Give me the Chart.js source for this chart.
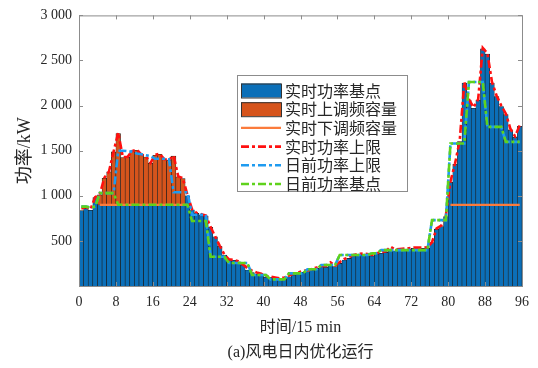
<!DOCTYPE html>
<html>
<head>
<meta charset="utf-8">
<script src="https://cdn.jsdelivr.net/npm/chart.js"></script>
<style>
  body { margin: 0; background: #fff; }
</style>
</head>
<body>
<canvas id="chart" width="538" height="368"></canvas>
<script>
// --- DATA (96 intervals of 15 min) ---

// 实时功率基点 (blue bars)
const rtBase = [
  835, 860, 840, 980, 900, 900, 900, 900, 900, 900, 900, 900, 900, 900, 900, 900,
  900, 900, 900, 900, 900, 900, 900, 1000, 845, 805, 790, 775, 650, 546, 440, 343,
  288, 285, 269, 232, 177, 148, 133, 122, 96, 96, 85, 74, 85, 103, 122, 140,
  151, 159, 177, 196, 214, 207, 232, 214, 251, 288, 306, 332, 343, 351, 343, 332,
  351, 362, 373, 398, 390, 398, 405, 408, 417, 417, 417, 420, 480, 630, 660, 770,
  1150, 1350, 1600, 2250, 2060, 1970, 2060, 2630, 2570, 2250, 2100, 1990, 1900, 1730, 1650, 1770
];

// 实时上调频容量 (orange bars, stacked on the base)
const rtUpCap = [
  0, 0, 0, 0, 110, 295, 365, 587, 790, 525, 528, 590, 605, 555, 530, 460,
  550, 560, 500, 495, 540, 310, 290, 0, 0, 0, 0, 0, 0, 0, 0, 0,
  0, 0, 0, 0, 0, 0, 0, 0, 0, 0, 0, 0, 0, 0, 0, 0,
  0, 0, 0, 0, 0, 0, 0, 0, 0, 0, 0, 0, 0, 0, 0, 0,
  0, 0, 0, 0, 0, 0, 0, 0, 0, 0, 0, 0, 0, 0, 0, 0,
  0, 0, 0, 0, 0, 0, 0, 0, 0, 0, 0, 0, 0, 0, 0, 0
];

// 实时下调频容量 (orange line, only where regulation is scheduled)
const rtDownCap = [
  null, null, null, null, 900, 900, 900, 900, 900, 900, 900, 900, 900, 900, 900, 900,
  900, 900, 900, 900, 900, 900, 900, 900, null, null, null, null, null, null, null, null,
  null, null, null, null, null, null, null, null, null, null, null, null, null, null, null, null,
  null, null, null, null, null, null, null, null, null, null, null, null, null, null, null, null,
  null, null, null, null, null, null, null, null, null, null, null, null, null, null, null, null,
  900, 900, 900, 900, 900, 900, 900, 900, 900, 900, 900, 900, 900, 900, 900, 900
];

// 实时功率上限 (red dash-dot)
const rtUpper = [
  860, 875, 850, 985, 1015, 1200, 1270, 1490, 1700, 1430, 1430, 1495, 1510, 1460, 1435, 1365,
  1455, 1465, 1405, 1400, 1445, 1215, 1195, 1010, 850, 810, 795, 780, 655, 550, 445, 350,
  295, 290, 275, 240, 200, 170, 150, 135, 110, 105, 95, 85, 95, 115, 135, 150,
  165, 175, 190, 205, 225, 220, 262, 225, 265, 300, 320, 345, 355, 360, 355, 345,
  362, 375, 385, 435, 405, 410, 415, 418, 425, 425, 425, 430, 485, 640, 670, 780,
  1160, 1360, 1610, 2260, 2070, 1980, 2070, 2640, 2580, 2260, 2110, 2000, 1910, 1740, 1660, 1780
];

// 日前功率上限 (blue dash-dot)
const daUpper = [
  880, 880, 870, 880, 1030, 1030, 1030, 1030, 1500, 1500, 1495, 1490, 1470, 1460, 1450, 1440,
  1410, 1410, 1410, 1405, 1040, 1040, 1040, 1040, 790, 790, 790, 790, 325, 325, 325, 325,
  255, 255, 255, 255, 255, 122, 122, 122, 122, 74, 74, 74, 74, 140, 140, 140,
  140, 185, 185, 185, 232, 232, 232, 232, 343, 343, 343, 343, 343, 343, 343, 362,
  362, 398, 398, 398, 398, 398, 398, 398, 398, 398, 398, 398, 730, 730, 730, 730,
  1580, 1580, 1580, 1580, 2262, 2262, 2262, 2262, 1764, 1764, 1764, 1764, 1598, 1598, 1598, 1598
];

// 日前功率基点 (green dash-dot)
const daBase = [
  880, 880, 870, 880, 1030, 1030, 1030, 1030, 900, 900, 900, 900, 900, 900, 900, 900,
  900, 900, 900, 900, 900, 900, 900, 900, 720, 720, 720, 720, 325, 325, 325, 325,
  255, 255, 255, 255, 255, 122, 122, 122, 122, 74, 74, 74, 74, 140, 140, 140,
  140, 185, 185, 185, 232, 232, 232, 232, 343, 343, 343, 343, 343, 343, 343, 362,
  362, 398, 398, 398, 398, 398, 398, 398, 398, 398, 398, 398, 730, 730, 730, 730,
  1580, 1580, 1580, 1580, 2262, 2262, 2262, 2262, 1764, 1764, 1764, 1764, 1598, 1598, 1598, 1598
];

const xTicks = [0, 8, 16, 24, 32, 40, 48, 56, 64, 72, 80, 88, 96];
const yTicks = [0, 500, 1000, 1500, 2000, 2500, 3000];

const SERIF = "'Liberation Serif', 'Noto Sans CJK SC', serif";
const CJK = "'Noto Sans CJK SC', sans-serif";
const AXIS_GREY = "#8c8c8c";
const DASH = [8, 3, 3, 3];

// bars and lines sit in the middle of each 15 min slot
function toPoints(arr) {
  return arr.map((v, i) => ({ x: i + 0.5, y: v }));
}

// orange bar reaches base + up capacity, drawn behind the blue one
const upTop = rtBase.map((v, i) => (rtUpCap[i] > 0 ? v + rtUpCap[i] : null));

// "3000" -> "3 000", 0 is not labelled
function fmtY(v) {
  if (v === 0) return "";
  const s = String(v);
  return s.length > 3 ? s.slice(0, -3) + " " + s.slice(-3) : s;
}

// --- PLUGINS ---

// box round the plot with inward ticks (matlab look)
const boxPlugin = {
  id: "box",
  afterDatasetsDraw(chart) {
    const { ctx, chartArea: a, scales } = chart;
    ctx.save();
    ctx.strokeStyle = AXIS_GREY;
    ctx.lineWidth = 1;
    ctx.strokeRect(a.left + 0.5, a.top + 0.5, a.right - a.left, a.bottom - a.top);
    ctx.beginPath();
    xTicks.forEach((t) => {
      const px = Math.round(scales.x.getPixelForValue(t)) + 0.5;
      ctx.moveTo(px, a.bottom); ctx.lineTo(px, a.bottom - 4);
      ctx.moveTo(px, a.top); ctx.lineTo(px, a.top + 4);
    });
    yTicks.forEach((t) => {
      const py = Math.round(scales.y.getPixelForValue(t)) + 0.5;
      ctx.moveTo(a.left, py); ctx.lineTo(a.left + 4, py);
      ctx.moveTo(a.right, py); ctx.lineTo(a.right - 4, py);
    });
    ctx.stroke();
    ctx.restore();
  },
};

// legend box inside the plot, same styles as the datasets
const legendPlugin = {
  id: "boxLegend",
  afterDraw(chart) {
    const { ctx } = chart;
    const items = [
      "实时功率基点", "实时上调频容量", "实时下调频容量",
      "实时功率上限", "日前功率上限", "日前功率基点",
    ];
    const x0 = 237, y0 = 75, w = 170, h = 116;
    ctx.save();
    ctx.fillStyle = "#fff";
    ctx.fillRect(x0, y0, w, h);
    ctx.strokeStyle = AXIS_GREY;
    ctx.lineWidth = 1;
    ctx.strokeRect(x0 + 0.5, y0 + 0.5, w, h);
    items.forEach((label, i) => {
      const ds = chart.data.datasets.find((d) => d.label === label);
      const cy = y0 + 15.5 + i * 18.7;
      if (ds.type === "bar") {
        ctx.fillStyle = ds.backgroundColor;
        ctx.fillRect(x0 + 4, cy - 7, 40, 14);
        ctx.strokeStyle = "#333";
        ctx.strokeRect(x0 + 4.5, cy - 6.5, 40, 14);
      } else {
        ctx.strokeStyle = ds.borderColor;
        ctx.lineWidth = ds.borderWidth;
        ctx.setLineDash(ds.borderDash || []);
        ctx.beginPath();
        ctx.moveTo(x0 + 4, cy);
        ctx.lineTo(x0 + 44, cy);
        ctx.stroke();
        ctx.setLineDash([]);
      }
      ctx.fillStyle = "#262626";
      ctx.font = "16px " + CJK;
      ctx.textBaseline = "middle";
      ctx.fillText(label, x0 + 48, cy);
    });
    ctx.restore();
  },
};

// --- CHART ---

function lineSet(label, arr, color, width, dash, order) {
  return {
    type: "line",
    label: label,
    data: toPoints(arr),
    borderColor: color,
    borderWidth: width,
    borderDash: dash,
    pointRadius: 0,
    fill: false,
    spanGaps: false,
    order: order,
  };
}

new Chart(document.getElementById("chart"), {
  type: "bar",
  data: {
    datasets: [
      lineSet("日前功率基点", daBase, "#5fd21c", 2.6, DASH, 0),
      lineSet("日前功率上限", daUpper, "#1f9bf0", 2.6, DASH, 1),
      lineSet("实时功率上限", rtUpper, "#ff1010", 2.6, DASH, 2),
      lineSet("实时下调频容量", rtDownCap, "#fb7b3c", 2.2, [], 3),
      {
        type: "bar",
        label: "实时功率基点",
        data: toPoints(rtBase),
        backgroundColor: "#0b6fb8",
        borderColor: "#1c1c1c",
        borderWidth: 0.6,
        grouped: false,
        barPercentage: 1,
        categoryPercentage: 1,
        order: 4,
      },
      {
        type: "bar",
        label: "实时上调频容量",
        data: toPoints(upTop),
        backgroundColor: "#d6541c",
        borderColor: "#1c1c1c",
        borderWidth: 0.6,
        grouped: false,
        barPercentage: 1,
        categoryPercentage: 1,
        order: 5,
      },
    ],
  },
  options: {
    responsive: false,
    animation: false,
    layout: { padding: { top: 15, right: 16, left: 0, bottom: 0 } },
    plugins: { legend: { display: false }, tooltip: { enabled: false } },
    scales: {
      x: {
        type: "linear",
        min: 0,
        max: 96,
        offset: false,
        grid: { display: false, drawTicks: false, offset: false },
        border: { display: false },
        afterBuildTicks: (scale) => {
          scale.ticks = xTicks.map((v) => ({ value: v }));
        },
        ticks: { padding: 8, color: "#262626", font: { family: SERIF, size: 14 }, maxRotation: 0 },
        title: {
          display: true,
          text: ["时间/15 min", "(a)风电日内优化运行"],
          color: "#262626",
          font: { family: SERIF, size: 16, lineHeight: 1.6 },
          padding: { top: 0, bottom: 2 },
        },
        afterFit: (scale) => { scale.height = 82; },
      },
      y: {
        min: 0,
        max: 3000,
        grid: { display: false, drawTicks: false },
        border: { display: false },
        afterBuildTicks: (scale) => {
          scale.ticks = yTicks.map((v) => ({ value: v }));
        },
        ticks: { padding: 7, color: "#262626", font: { family: SERIF, size: 14 }, callback: fmtY },
        title: {
          display: true,
          text: "功率/kW",
          color: "#262626",
          font: { family: SERIF, size: 18 },
          padding: { top: 14, bottom: 0 },
        },
        afterFit: (scale) => { scale.width = 79; },
      },
    },
  },
  plugins: [boxPlugin, legendPlugin],
});
</script>
</body>
</html>
